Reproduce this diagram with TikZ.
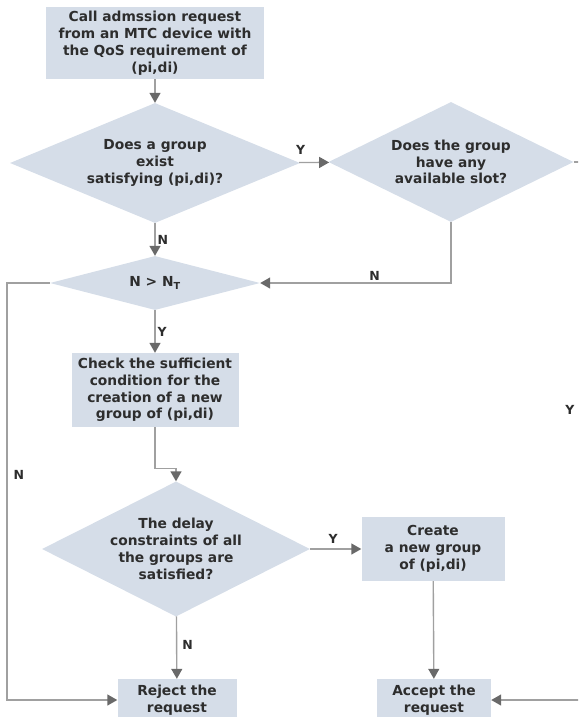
\documentclass[tikz,border=0pt]{standalone}
\usepackage{fontspec}
\setmainfont{DejaVu Sans}
\usetikzlibrary{arrows.meta,positioning,shapes.geometric}
\definecolor{boxF}{RGB}{213,221,232}
\definecolor{lineG}{RGB}{160,160,160}
\definecolor{tipG}{RGB}{105,105,105}
\definecolor{txtG}{RGB}{45,45,45}

\begin{document}
\begin{tikzpicture}[
  x=1pt, y=-1pt, text=txtG,
  font=\bfseries\fontsize{13.8}{16.8}\selectfont,
  >={Triangle[length=10pt,width=11pt,color=tipG]},
  proc/.style={rectangle, fill=boxF, inner sep=2pt, align=center},
  dec/.style={diamond, fill=boxF, inner sep=0pt, align=center},
  flow/.style={->, draw=lineG, line width=1.4pt},
  yn/.style={font=\bfseries\fontsize{12.5}{14}\selectfont, inner sep=2pt}]

  \clip (0,0) rectangle (578,717);

  \node[proc, minimum width=218, minimum height=72] (call) at (155,43)
    {Call admssion request\\from an MTC device with\\the QoS requirement of\\(pi,di)};
  \node[dec, minimum width=290, minimum height=120, aspect=2.4] (exist) at (155,163)
    {Does a group\\exist\\satisfying (pi,di)?};
  \node[dec, minimum width=245, minimum height=120, aspect=2] (slot) at (451,162)
    {Does the group\\have any\\available slot?};
  \node[dec, minimum width=210, minimum height=54, aspect=3.9] (thr) at (155,283)
    {N > N\textsubscript{T}};
  \node[proc, minimum width=167, minimum height=74] (check) at (155,390)
    {Check the sufficient\\condition for the\\creation of a new\\group of (pi,di)};
  \node[dec, minimum width=268, minimum height=135, aspect=2] (delay) at (176,549)
    {The delay\\constraints of all\\the groups are\\satisfied?};
  \node[proc, minimum width=143, minimum height=64] (create) at (433,549)
    {Create\\a new group\\of (pi,di)};
  \node[proc, minimum width=119, minimum height=42] (reject) at (177,700)
    {Reject the\\request};
  \node[proc, minimum width=114, minimum height=42] (accept) at (434,700)
    {Accept the\\request};

  % turning points of the outer loops
  \coordinate (lft) at (7,283);
  \coordinate (rt) at (586,162);

  \draw[flow] (call) -- (exist);
  \draw[flow] (exist) -- node[yn, above=5pt, pos=0.05]{Y} (slot);
  \draw[flow] (exist) -- node[yn, right]{N} (thr);
  \draw[flow] (slot.south) |- node[yn, above, pos=0.7]{N} (thr.east);
  \draw[flow] (thr.west) -- (lft) |- node[yn, right=4pt, pos=0.23]{N} (reject.west);
  \draw[flow] (thr) -- node[yn, right]{Y} (check);
  \draw[flow] (check.south) -- ++(0,41) -| (delay.north);
  \draw[flow] (delay) -- node[yn, above=3pt, pos=0.45]{Y} (create);
  \draw[flow] (delay) -- node[yn, right=3pt, pos=0.45]{N} (reject);
  \draw[flow] (create) -- (accept);
  \draw[flow] (slot.east) -- (rt) |- node[yn, left=9pt, pos=0.23]{Y} (accept.east);
\end{tikzpicture}
\end{document}
